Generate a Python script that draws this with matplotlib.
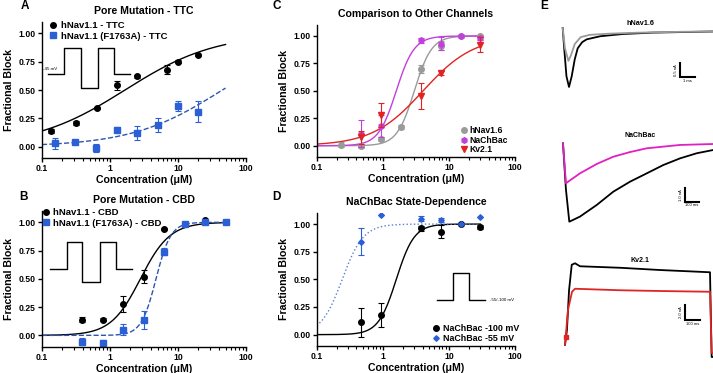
import numpy as np
import matplotlib
matplotlib.use("Agg")
import matplotlib.pyplot as plt
from matplotlib.ticker import LogLocator, NullFormatter, FuncFormatter

plt.rcParams['font.family'] = ['Liberation Sans', 'DejaVu Sans']
plt.rcParams['font.weight'] = 'bold'
plt.rcParams['axes.labelweight'] = 'bold'
plt.rcParams['axes.titleweight'] = 'bold'

W, H = 713, 373

# ---------------- data ----------------
# A: pore mutation - TTC
a_wt_conc = [0.135, 0.32, 0.64, 1.25, 2.5, 7.0, 10, 20]
a_wt_block = [0.14, 0.21, 0.34, 0.54, 0.62, 0.68, 0.75, 0.81]
a_wt_err = [0.015, 0.02, 0.01, 0.04, 0.01, 0.04, 0.015, 0.01]
a_mut_conc = [0.155, 0.31, 0.63, 1.25, 2.5, 5.0, 10, 20]
a_mut_block = [0.03, 0.04, -0.01, 0.15, 0.12, 0.19, 0.36, 0.31]
a_mut_err = [0.05, 0.02, 0.035, 0.02, 0.06, 0.06, 0.045, 0.09]
a_wt_fit = [1.66, 0.65]     # IC50 (uM), hill slope
a_mut_fit = [45.0, 0.65]

# B: pore mutation - CBD
b_conc = [0.39, 0.78, 1.56, 3.125, 6.25, 12.5, 25, 50]
b_wt_block = [0.14, 0.14, 0.28, 0.52, 0.94, 0.985, 1.02, 1.0]
b_wt_err = [0.025, 0.01, 0.07, 0.06, 0.01, 0.01, 0.01, 0.005]
b_mut_block = [-0.055, -0.065, 0.05, 0.14, 0.74, 0.985, 1.0, 1.0]
b_mut_err = [0.03, 0.02, 0.05, 0.08, 0.03, 0.01, 0.01, 0.005]
b_wt_fit = [2.8, 2.0]
b_mut_fit = [4.75, 4.0]

# C: comparison to other channels
c_nav_conc = [0.23, 0.47, 0.94, 1.9, 3.75, 7.5, 15, 30]
c_nav_block = [0.01, 0.0, 0.06, 0.17, 0.70, 0.91, 1.0, 1.0]
c_nav_err = [0.02, 0.02, 0.015, 0.02, 0.04, 0.04, 0.01, 0.01]
c_nac_conc = [0.47, 0.94, 3.75, 7.5, 15, 30]
c_nac_block = [0.11, 0.18, 0.96, 0.93, 1.0, 0.98]
c_nac_err = [0.12, 0.1, 0.02, 0.06, 0.01, 0.02]
c_kv_conc = [0.47, 0.94, 3.75, 7.5, 30]
c_kv_block = [0.075, 0.28, 0.455, 0.665, 0.92]
c_kv_err = [0.06, 0.11, 0.12, 0.02, 0.07]
c_nav_fit = [3.0, 3.3]
c_nac_fit = [1.6, 3.2]
c_kv_fit = [4.07, 1.13]

# D: NaChBac state dependence
d_conc = [0.47, 0.94, 3.75, 7.5, 15, 30]
d_100_block = [0.11, 0.18, 0.96, 0.93, 1.0, 0.975]
d_100_err = [0.13, 0.11, 0.02, 0.06, 0.01, 0.02]
d_55_block = [0.84, 1.08, 1.05, 1.035, 1.0, 1.06]
d_55_err = [0.12, 0.0, 0.02, 0.02, 0.01, 0.0]
d_100_fit = [1.6, 3.2]
d_55_fit = [0.243, 2.72]

# E: example current traces (time, current)
nav_t_ctl = [0, 0.1, 0.25, 0.42, 0.6, 0.8, 1.0, 1.3, 1.6, 2.5, 4, 6, 8, 10]
nav_i_ctl = [0.12, -0.6, -1.6, -1.98, -1.6, -1.0, -0.6, -0.38, -0.28, -0.17, -0.09, -0.04, -0.02, 0]
nav_t_drug = [0, 0.15, 0.38, 0.55, 0.8, 1.2, 1.8, 3, 4.5, 6, 8, 10]
nav_i_drug = [0.12, -0.6, -1.05, -0.85, -0.45, -0.2, -0.12, -0.08, -0.05, -0.03, -0.01, 0]

nac_t_ctl = [0, 21, 45, 121, 241, 359, 479, 598, 716, 836, 955, 1071]
nac_i_ctl = [-0.25, -3.7, -6.1, -5.72, -4.85, -3.86, -3.11, -2.49, -1.87, -1.37, -0.99, -0.75]
nac_t_drug = [0, 21, 121, 241, 359, 479, 598, 836, 1071]
nac_i_drug = [-0.25, -3.23, -2.49, -1.79, -1.25, -0.9, -0.62, -0.37, -0.3]

kv_t_ctl = [0, 13, 27, 45, 67, 100, 367, 633, 967, 978, 985]
kv_i_ctl = [0, 2.0, 7.3, 10.7, 10.9, 10.5, 10.3, 10.0, 9.7, -1.6, -1.6]
kv_t_drug = [0, 20, 47, 67, 367, 633, 967, 978, 985]
kv_i_drug = [0, 4.7, 7.1, 7.5, 7.3, 7.2, 7.1, -1.07, -1.07]

BLUE = '#2a5fd6'
BLUE_LINE = '#2d55b0'
GREY = '#9a9a9a'
MAGENTA = '#c23fdc'
RED = '#e02424'


def hill(x, ic50, n):
    return 1.0 / (1.0 + (ic50 / x) ** n)


def px_axes(fig, x0, y0, x1, y1):
    return fig.add_axes([x0 / W, 1 - y1 / H, (x1 - x0) / W, (y1 - y0) / H])


def style_dose(ax, title):
    ax.set_xscale('log')
    ax.set_xlim(0.1, 100)
    ax.set_ylim(-0.1, 1.1)
    ax.set_yticks([0, 0.25, 0.5, 0.75, 1.0])
    ax.yaxis.set_major_formatter(FuncFormatter(lambda v, p: f'{v:.2f}'))
    ax.set_xticks([0.1, 1, 10, 100])
    ax.set_xticklabels(['0.1', '1', '10', '100'])
    ax.xaxis.set_minor_locator(LogLocator(subs=np.arange(2, 10)))
    ax.xaxis.set_minor_formatter(NullFormatter())
    for s in ['top', 'right']:
        ax.spines[s].set_visible(False)
    for s in ['left', 'bottom']:
        ax.spines[s].set_linewidth(1.0)
    ax.tick_params(which='major', direction='out', length=3, width=1, labelsize=6.2, pad=1.5)
    ax.tick_params(which='minor', direction='out', length=1.8, width=0.8)
    ax.set_xlabel('Concentration (μM)', fontsize=7.6, labelpad=1.5)
    ax.set_ylabel('Fractional Block', fontsize=7.6, labelpad=3)
    ax.set_title(title, fontsize=7.6, pad=6)


def points(ax, x, y, err, color, marker, ms, label):
    ax.errorbar(x, y, yerr=err, fmt='none', ecolor=color, elinewidth=0.8,
                capsize=2, capthick=0.8)
    ax.plot(x, y, ls='none', marker=marker, ms=ms, color=color, mec=color, label=label)


def fit(ax, params, lo, hi, color, ls):
    xs = np.logspace(np.log10(lo), np.log10(hi), 200)
    ax.plot(xs, hill(xs, *params), color=color, lw=1.0, ls=ls)


def protocol(ax, xs, ys):
    ax.plot(xs, ys, color='black', lw=1.0, transform=ax.transAxes, clip_on=False)


fig = plt.figure(figsize=(W / 100, H / 100), dpi=100)

# ---- A ----
axA = px_axes(fig, 42, 22, 246, 158)
style_dose(axA, 'Pore Mutation - TTC')
fit(axA, a_wt_fit, 0.1, 50, 'black', '-')
fit(axA, a_mut_fit, 0.1, 50, BLUE_LINE, '--')
points(axA, a_wt_conc, a_wt_block, a_wt_err, 'black', 'o', 4, 'hNav1.1 - TTC')
points(axA, a_mut_conc, a_mut_block, a_mut_err, BLUE, 's', 4, 'hNav1.1 (F1763A) - TTC')
axA.legend(loc='upper left', bbox_to_anchor=(0.035, 1.005), frameon=False, fontsize=6.8,
           handlelength=0.9, handletextpad=0.4, labelspacing=0.15, borderpad=0,
           borderaxespad=0)
protocol(axA, [0.029, 0.108, 0.108, 0.191, 0.191, 0.275, 0.275, 0.353, 0.353, 0.431],
         [0.618, 0.618, 0.809, 0.809, 0.515, 0.515, 0.809, 0.809, 0.618, 0.618])
axA.text(0.005, 0.64, '-45 mV', transform=axA.transAxes, fontsize=3.2,
         fontweight='normal', va='bottom')

# ---- B ----
axB = px_axes(fig, 42, 211, 246, 346.7)
style_dose(axB, 'Pore Mutation - CBD')
fit(axB, b_wt_fit, 0.1, 50, 'black', '-')
fit(axB, b_mut_fit, 0.1, 50, BLUE_LINE, '--')
points(axB, b_conc, b_wt_block, b_wt_err, 'black', 'o', 4, 'hNav1.1 - CBD')
points(axB, b_conc, b_mut_block, b_mut_err, BLUE, 's', 4, 'hNav1.1 (F1763A) - CBD')
axB.legend(loc='upper left', bbox_to_anchor=(0.0, 1.02), frameon=False, fontsize=6.8,
           handlelength=0.9, handletextpad=0.3, labelspacing=0.15, borderpad=0,
           borderaxespad=0)
protocol(axB, [0.039, 0.121, 0.121, 0.198, 0.198, 0.284, 0.284, 0.363, 0.363, 0.443],
         [0.573, 0.573, 0.769, 0.769, 0.475, 0.475, 0.769, 0.769, 0.573, 0.573])

# ---- C ----
axC = px_axes(fig, 316.7, 25, 515, 156.7)
style_dose(axC, 'Comparison to Other Channels')
fit(axC, c_nav_fit, 0.1, 30, GREY, '-')
fit(axC, c_nac_fit, 0.1, 30, MAGENTA, '-')
fit(axC, c_kv_fit, 0.1, 30, RED, '-')
points(axC, c_nav_conc, c_nav_block, c_nav_err, GREY, 'o', 4, 'hNav1.6')
points(axC, c_nac_conc, c_nac_block, c_nac_err, MAGENTA, 'h', 4, 'NaChBac')
points(axC, c_kv_conc, c_kv_block, c_kv_err, RED, 'v', 4.5, 'Kv2.1')
axC.legend(loc='lower right', bbox_to_anchor=(0.965, 0.02), frameon=False, fontsize=6.2,
           handlelength=0.6, handletextpad=0.4, labelspacing=0.05, borderpad=0,
           borderaxespad=0)

# ---- D ----
axD = px_axes(fig, 316.7, 213, 515, 345.7)
style_dose(axD, 'NaChBac State-Dependence')
fit(axD, d_100_fit, 0.1, 30, 'black', '-')
fit(axD, d_55_fit, 0.1, 30, '#5b7fcc', ':')
points(axD, d_conc, d_100_block, d_100_err, 'black', 'o', 4, 'NaChBac -100 mV')
points(axD, d_conc, d_55_block, d_55_err, BLUE, 'D', 2.8, 'NaChBac -55 mV')
axD.legend(loc='lower right', bbox_to_anchor=(1.02, 0.02), frameon=False, fontsize=6.4,
           handlelength=0.6, handletextpad=0.4, labelspacing=0.1, borderpad=0,
           borderaxespad=0)
protocol(axD, [0.608, 0.686, 0.686, 0.766, 0.766, 0.849],
         [0.344, 0.344, 0.545, 0.545, 0.344, 0.344])
axD.text(0.874, 0.344, '-55/-100 mV', transform=axD.transAxes, fontsize=3.2,
         fontweight='normal', va='center')

# ---- E: traces ----
def scalebar(ax, x, y, dx, dy, ylab, xlab):
    ax.plot([x, x, x + dx], [y + dy, y, y], color='black', lw=1.5, solid_joinstyle='miter')
    ax.text(x - dx * 0.25, y + dy / 2, ylab, rotation=90, fontsize=3, ha='center',
            va='center', fontweight='normal')
    ax.text(x + dx / 2, y - dy * 0.25, xlab, fontsize=3, ha='center', va='center',
            fontweight='normal')

axE1 = px_axes(fig, 553, 15, 713, 100)
axE1.set_xlim(-0.647, 10.02)
axE1.set_ylim(-2.446, 0.589)
axE1.plot(nav_t_ctl, nav_i_ctl, color='black', lw=1.3)
axE1.plot(nav_t_drug, nav_i_drug, color=GREY, lw=1.3)
axE1.text(5.15, 0.27, 'hNav1.6', fontsize=5.2, ha='center', va='center')
scalebar(axE1, 7.82, -1.636, 1.0, 0.5, '0.5 nA', '1 ms')
axE1.axis('off')

axE2 = px_axes(fig, 553, 130, 713, 230)
axE2.set_xlim(-71.4, 1071)
axE2.set_ylim(-6.72, 0.746)
axE2.plot(nac_t_ctl, nac_i_ctl, color='black', lw=1.3)
axE2.plot(nac_t_drug, nac_i_drug, color='#e020c0', lw=1.3)
axE2.text(550, 0.37, 'NaChBac', fontsize=5, ha='center', va='center')
scalebar(axE2, 871, -4.6, 100, 1.0, '1.0 nA', '100 ms')
axE2.axis('off')

axE3 = px_axes(fig, 553, 250, 713, 365)
axE3.set_xlim(-80, 987)
axE3.set_ylim(-2.67, 12.67)
axE3.plot(kv_t_ctl, kv_i_ctl, color='black', lw=1.3)
axE3.plot(kv_t_drug, kv_i_drug, color=RED, lw=1.3)
axE3.plot([5], [1.0], ls='none', marker='s', ms=2.5, color=RED)
axE3.text(500, 11.33, 'Kv2.1', fontsize=5, ha='center', va='center')
scalebar(axE3, 800, 3.33, 100, 2.0, '2.0 nA', '100 ms')
axE3.axis('off')

# panel letters
for letter, (px, py) in {'A': (25, 6), 'B': (23.5, 197), 'C': (277, 6),
                         'D': (276, 197), 'E': (544, 6)}.items():
    fig.text(px / W, 1 - py / H, letter, fontsize=8.5, ha='center', va='center')

fig.savefig('out.png', dpi=100)
